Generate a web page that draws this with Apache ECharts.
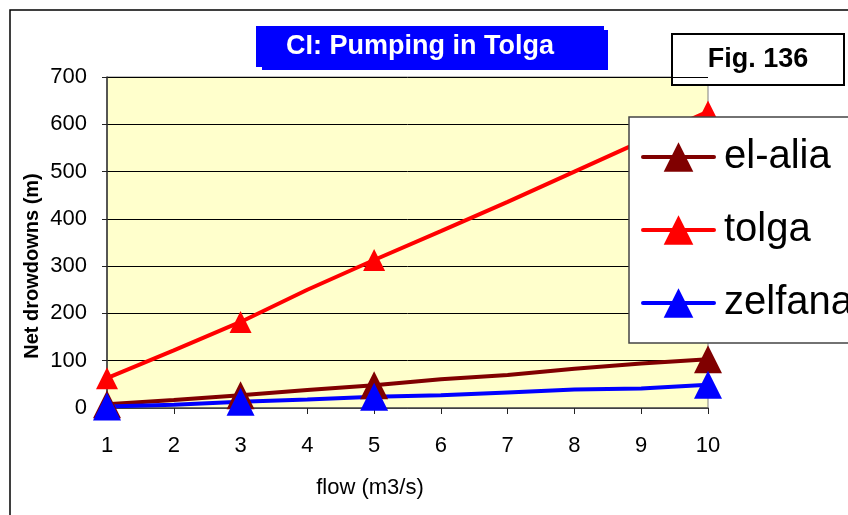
<!DOCTYPE html>
<html>
<head>
<meta charset="utf-8">
<script src="https://cdn.jsdelivr.net/npm/echarts@6/dist/echarts.min.js"></script>
<style>
  html, body { margin: 0; padding: 0; background: #fff; }
  #chart { width: 848px; height: 515px; }
</style>
</head>
<body>
<div id="chart"></div>
<script>
// flow (m3/s) on the x axis
const flow = [1, 2, 3, 4, 5, 6, 7, 8, 9, 10]
// net drawdowns (m)
const elAlia = [8, 17, 27, 38, 48, 61, 70, 83, 94, 103]
const tolga = [63, 122, 182, 250, 313, 374, 436, 500, 564, 627]
const zelfana = [3, 7, 13, 18, 24, 27, 33, 39, 41, 49]
// flows where a marker is drawn
const markedFlows = [1, 3, 5, 10]
const yTicks = [0, 100, 200, 300, 400, 500, 600, 700]

const font = 'Liberation Sans, Arial, sans-serif'

const toPoints = (values) =>
  flow.map((x, i) => {
    const item = { value: [x, values[i]] }
    if (!markedFlows.includes(x)) item.symbol = 'none'
    return item
  })

const makeSeries = (name, values, color, size) => ({
  name: name,
  type: 'line',
  data: toPoints(values),
  symbol: 'triangle',
  symbolSize: size,
  showAllSymbol: true,
  clip: false,
  lineStyle: { color: color, width: 4 },
  itemStyle: { color: color },
  emphasis: { disabled: true },
  animation: false,
})

const myChart = echarts.init(document.getElementById('chart'))
myChart.setOption({
  animation: false,
  grid: {
    left: 107,
    right: 140,
    top: 77,
    bottom: 107,
    show: true,
    backgroundColor: '#FFFFCC',
    borderColor: '#808080',
    borderWidth: 1,
  },
  xAxis: {
    type: 'value',
    min: flow[0],
    max: flow[flow.length - 1],
    interval: 1,
    axisLine: { lineStyle: { color: '#555', width: 1.5 } },
    axisTick: { show: true, length: 6, inside: false, lineStyle: { color: '#222' } },
    axisLabel: { color: '#000', fontFamily: font, fontSize: 22, margin: 27 },
    splitLine: { show: false },
  },
  yAxis: {
    type: 'value',
    min: yTicks[0],
    max: yTicks[yTicks.length - 1],
    interval: 100,
    axisLine: { show: true, lineStyle: { color: '#333', width: 1.5 } },
    axisTick: { show: true, length: 5, lineStyle: { color: '#222' } },
    axisLabel: { color: '#000', fontFamily: font, fontSize: 22, margin: 20 },
    splitLine: { show: true, lineStyle: { color: '#000', width: 1 } },
  },
  legend: {
    orient: 'vertical',
    left: 629,
    top: 117,
    padding: [20, 40, 20, 12],
    itemGap: 33,
    itemWidth: 71,
    itemHeight: 37,
    backgroundColor: '#fff',
    borderColor: '#444',
    borderWidth: 1.5,
    selectedMode: false,
    lineStyle: { width: 4, cap: 'round' },
    textStyle: { fontFamily: font, fontSize: 40, lineHeight: 40, color: '#000', padding: [0, 0, 0, 5] },
    data: ['el-alia', 'tolga', 'zelfana'],
  },
  graphic: [
    {
      type: 'rect',
      shape: { x: 10, y: 10, width: 900, height: 600 },
      style: { fill: 'none', stroke: '#000', lineWidth: 1.5 },
      silent: true,
    },
    {
      type: 'rect',
      shape: { x: 262, y: 30, width: 346, height: 40 },
      style: { fill: '#0000FF' },
      silent: true,
    },
    {
      type: 'rect',
      shape: { x: 256, y: 26, width: 348, height: 41 },
      style: { fill: '#0000FF' },
      silent: true,
    },
    {
      type: 'text',
      left: 286,
      top: 33,
      style: { text: 'CI: Pumping in Tolga', fill: '#fff', font: 'bold 27px ' + font },
      silent: true,
    },
    {
      type: 'rect',
      shape: { x: 672, y: 34, width: 172, height: 51 },
      style: { fill: '#fff', stroke: '#000', lineWidth: 2 },
      silent: true,
    },
    {
      type: 'text',
      x: 758,
      y: 60,
      style: { text: 'Fig. 136', fill: '#000', font: 'bold 27px ' + font, align: 'center', verticalAlign: 'middle' },
      silent: true,
    },
    {
      type: 'text',
      x: 370,
      y: 488,
      style: { text: 'flow (m3/s)', fill: '#000', font: '22px ' + font, align: 'center', verticalAlign: 'middle' },
      silent: true,
    },
    {
      type: 'text',
      x: 32,
      y: 266,
      rotation: Math.PI / 2,
      style: { text: 'Net drowdowns (m)', fill: '#000', font: 'bold 20px ' + font, align: 'center', verticalAlign: 'middle' },
      silent: true,
    },
  ],
  series: [
    makeSeries('el-alia', elAlia, '#800000', 28),
    makeSeries('tolga', tolga, '#FF0000', 22),
    makeSeries('zelfana', zelfana, '#0000FF', 28),
  ],
})
</script>
</body>
</html>
